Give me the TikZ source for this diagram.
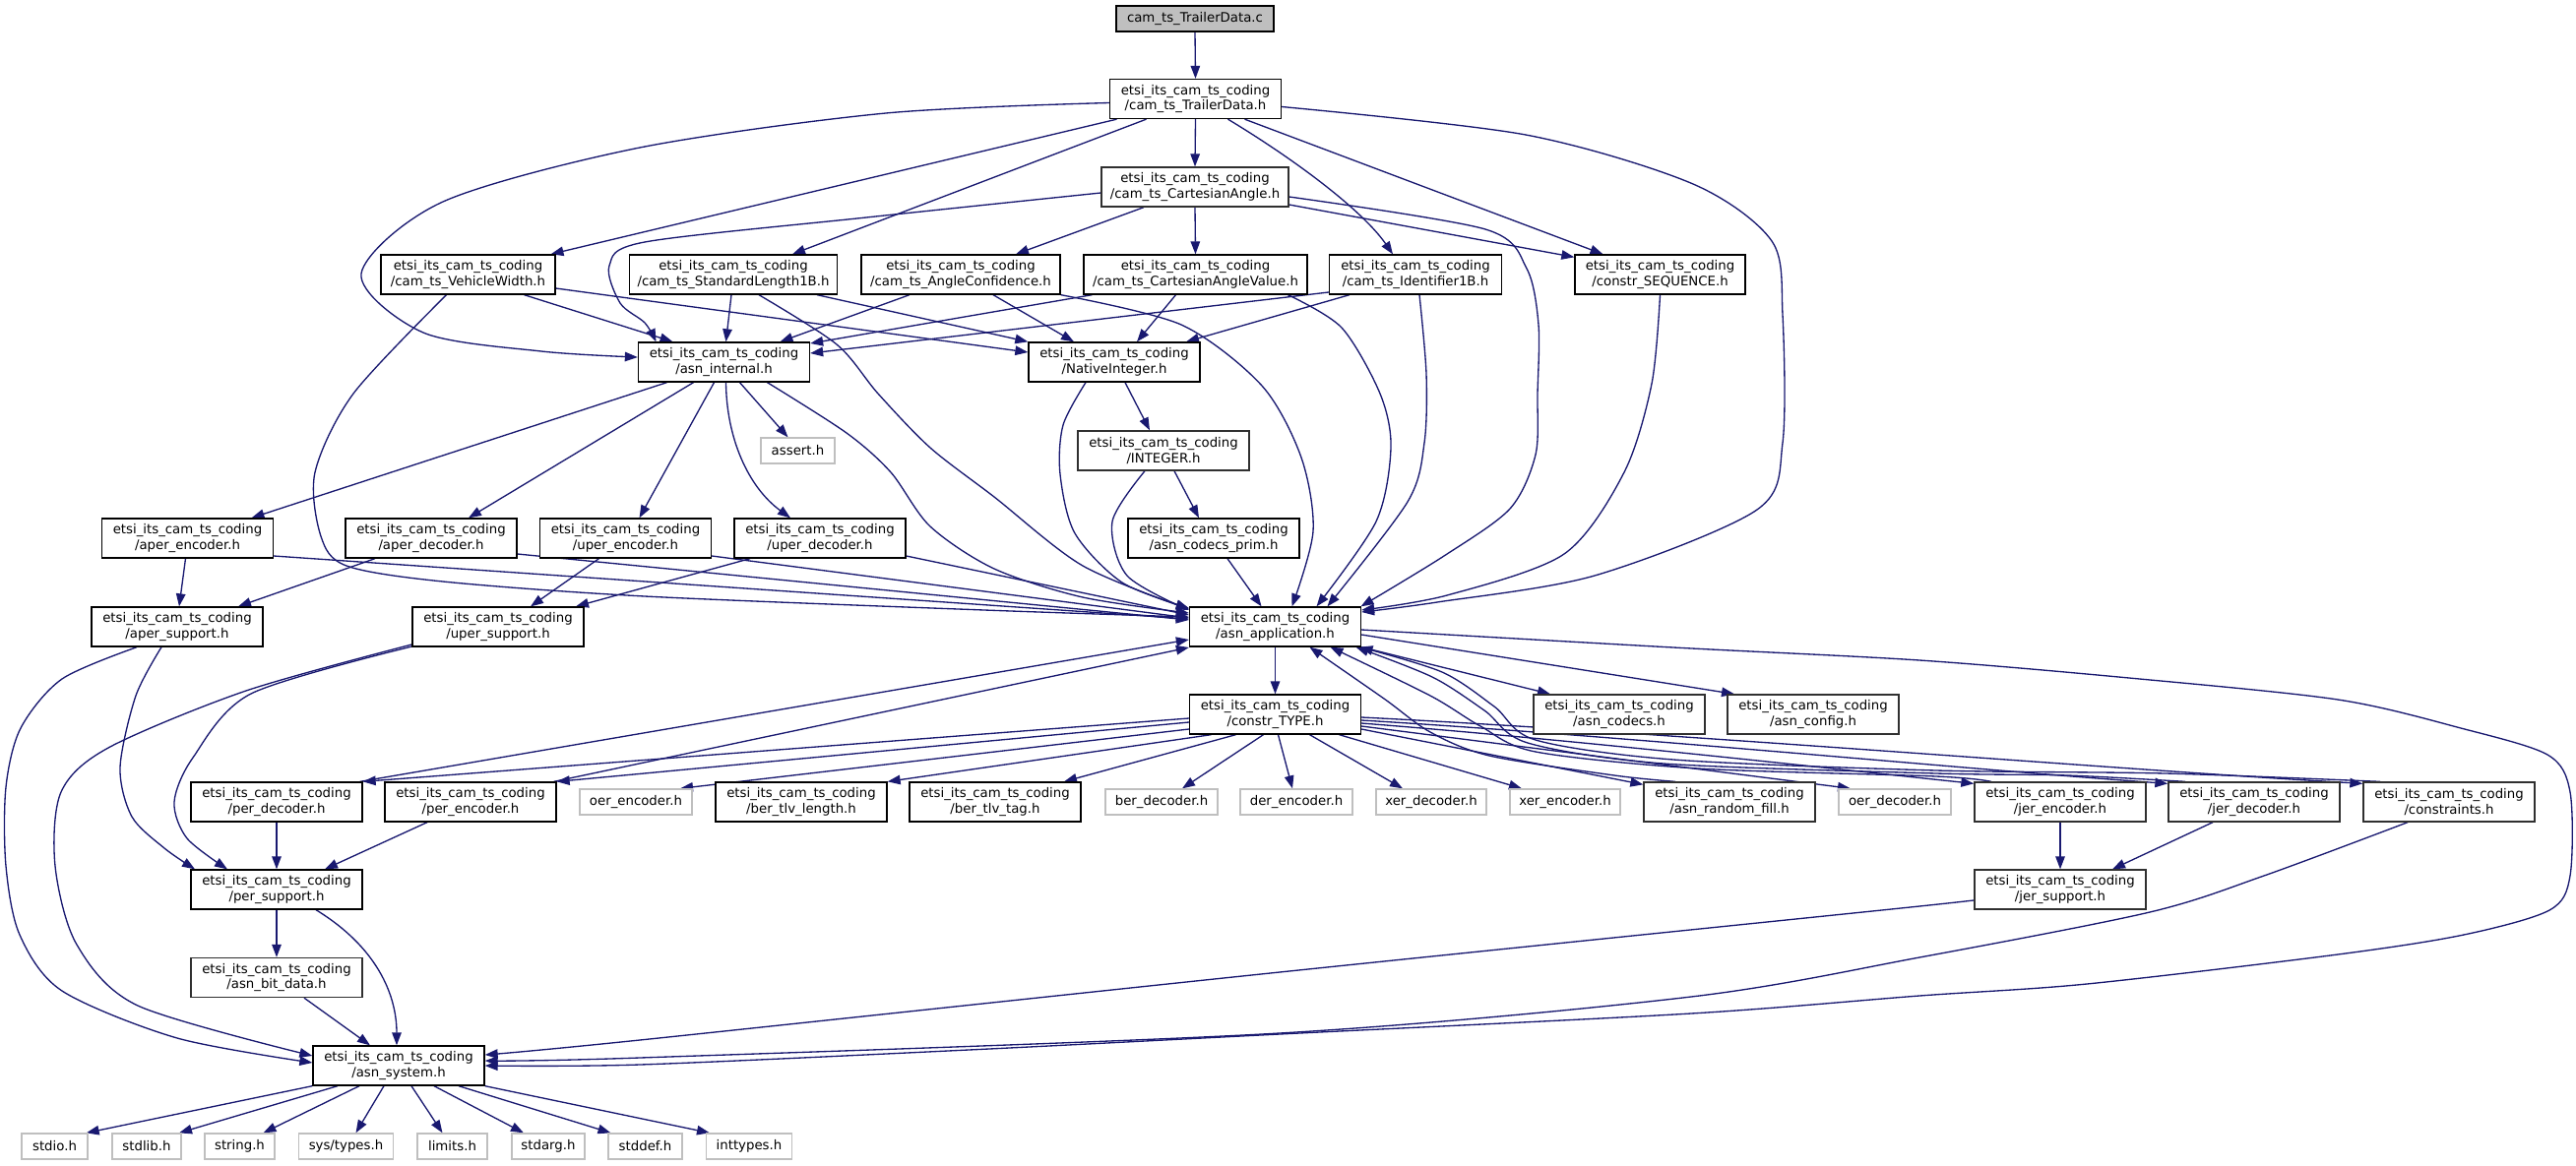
\documentclass[tikz,border=0pt]{standalone}
\usepackage{fontspec}
\setmainfont{DejaVu Sans}
\usetikzlibrary{arrows.meta}
\pgfdeclarelayer{bg}
\pgfsetlayers{bg,main}
\definecolor{edgecol}{HTML}{191970}
\definecolor{greyb}{HTML}{BFBFBF}
\definecolor{greyd}{HTML}{303030}
\newcommand\lblfont{\fontsize{13.3pt}{15.5pt}\selectfont}
\tikzset{
  box/.style={draw=black, line width=1.33pt, fill=white, minimum width=174pt, minimum height=40pt, inner sep=0pt, align=center, font=\lblfont},
  gbox/.style={box, draw=greyd},
  ext/.style={draw=greyb, line width=1.33pt, fill=white, minimum height=26pt, inner sep=0pt, align=center, font=\lblfont},
  dep/.style={draw=edgecol, line width=1.33pt, -{Triangle[length=13pt,width=9.5pt]}},
}
\begin{document}
\begin{tikzpicture}[x=1pt,y=-1pt]
\useasboundingbox (0,0) rectangle (2617,1184);
% ---------- nodes ----------
\node[box,minimum width=160pt,minimum height=26pt,fill=greyb] (c) at (1214,19) {cam\_ts\_TrailerData.c};
\node[box] (th) at (1214.5,100.5) {etsi\_its\_cam\_ts\_coding\\/cam\_ts\_TrailerData.h};
\node[gbox,minimum width=190pt] (ca) at (1214,190) {etsi\_its\_cam\_ts\_coding\\/cam\_ts\_CartesianAngle.h};
\node[box,minimum width=177pt] (vw) at (475.5,279) {etsi\_its\_cam\_ts\_coding\\/cam\_ts\_VehicleWidth.h};
\node[box,minimum width=211pt] (sl) at (745,279) {etsi\_its\_cam\_ts\_coding\\/cam\_ts\_StandardLength1B.h};
\node[box,minimum width=202pt] (ac) at (976,279) {etsi\_its\_cam\_ts\_coding\\/cam\_ts\_AngleConfidence.h};
\node[box,minimum width=227pt] (cav) at (1214.5,279) {etsi\_its\_cam\_ts\_coding\\/cam\_ts\_CartesianAngleValue.h};
\node[box,minimum width=175pt] (id) at (1438,279) {etsi\_its\_cam\_ts\_coding\\/cam\_ts\_Identifier1B.h};
\node[box,minimum width=173pt] (seq) at (1686.5,279) {etsi\_its\_cam\_ts\_coding\\/constr\_SEQUENCE.h};
\node[box] (ai) at (735.5,368) {etsi\_its\_cam\_ts\_coding\\/asn\_internal.h};
\node[box] (ni) at (1132,368) {etsi\_its\_cam\_ts\_coding\\/NativeInteger.h};
\node[ext,minimum width=75pt] (assert) at (810.5,458) {assert.h};
\node[gbox] (int) at (1182,458) {etsi\_its\_cam\_ts\_coding\\/INTEGER.h};
\node[box] (aenc) at (190.5,547) {etsi\_its\_cam\_ts\_coding\\/aper\_encoder.h};
\node[box] (adec) at (438,547) {etsi\_its\_cam\_ts\_coding\\/aper\_decoder.h};
\node[box] (uenc) at (635.5,547) {etsi\_its\_cam\_ts\_coding\\/uper\_encoder.h};
\node[box] (udec) at (833,547) {etsi\_its\_cam\_ts\_coding\\/uper\_decoder.h};
\node[box] (prim) at (1233,547) {etsi\_its\_cam\_ts\_coding\\/asn\_codecs\_prim.h};
\node[box] (asup) at (180,637) {etsi\_its\_cam\_ts\_coding\\/aper\_support.h};
\node[box] (usup) at (506,637) {etsi\_its\_cam\_ts\_coding\\/uper\_support.h};
\node[box] (aa) at (1295.5,637) {etsi\_its\_cam\_ts\_coding\\/asn\_application.h};
\node[box] (ctype) at (1295.5,726) {etsi\_its\_cam\_ts\_coding\\/constr\_TYPE.h};
\node[gbox] (codecs) at (1645,726) {etsi\_its\_cam\_ts\_coding\\/asn\_codecs.h};
\node[gbox] (config) at (1842,726) {etsi\_its\_cam\_ts\_coding\\/asn\_config.h};
\node[box] (pdec) at (281,815) {etsi\_its\_cam\_ts\_coding\\/per\_decoder.h};
\node[box] (penc) at (478,815) {etsi\_its\_cam\_ts\_coding\\/per\_encoder.h};
\node[ext,minimum width=114pt] (oerenc) at (646,815) {oer\_encoder.h};
\node[box] (btl) at (814,815) {etsi\_its\_cam\_ts\_coding\\/ber\_tlv\_length.h};
\node[box] (btt) at (1011,815) {etsi\_its\_cam\_ts\_coding\\/ber\_tlv\_tag.h};
\node[ext,minimum width=114pt] (berdec) at (1180,815) {ber\_decoder.h};
\node[ext,minimum width=114pt] (derenc) at (1317,815) {der\_encoder.h};
\node[ext,minimum width=112pt] (xerdec) at (1454,815) {xer\_decoder.h};
\node[ext,minimum width=112pt] (xerenc) at (1590,815) {xer\_encoder.h};
\node[gbox] (rnd) at (1757,815) {etsi\_its\_cam\_ts\_coding\\/asn\_random\_fill.h};
\node[ext,minimum width=114pt] (oerdec) at (1925,815) {oer\_decoder.h};
\node[gbox] (jenc) at (2093,815) {etsi\_its\_cam\_ts\_coding\\/jer\_encoder.h};
\node[gbox] (jdec) at (2290,815) {etsi\_its\_cam\_ts\_coding\\/jer\_decoder.h};
\node[gbox] (cons) at (2488,815) {etsi\_its\_cam\_ts\_coding\\/constraints.h};
\node[box] (psup) at (281,904) {etsi\_its\_cam\_ts\_coding\\/per\_support.h};
\node[gbox] (jsup) at (2093,904) {etsi\_its\_cam\_ts\_coding\\/jer\_support.h};
\node[gbox] (bit) at (281,993.5) {etsi\_its\_cam\_ts\_coding\\/asn\_bit\_data.h};
\node[box] (sys) at (405,1083) {etsi\_its\_cam\_ts\_coding\\/asn\_system.h};
\node[ext,minimum width=67pt] (stdio) at (55.5,1165) {stdio.h};
\node[ext,minimum width=70pt] (stdlib) at (149,1165) {stdlib.h};
\node[ext,minimum width=71pt] (string) at (243.5,1165) {string.h};
\node[ext,minimum width=96pt] (systypes) at (351.5,1165) {sys/types.h};
\node[ext,minimum width=71pt] (limits) at (459.5,1165) {limits.h};
\node[ext,minimum width=74pt] (stdarg) at (557,1165) {stdarg.h};
\node[ext,minimum width=75pt] (stddef) at (655.5,1165) {stddef.h};
\node[ext,minimum width=87pt] (inttypes) at (761,1165) {inttypes.h};
% ---------- edges ----------
\begin{pgfonlayer}{bg}
\draw[dep] (c.south) -- (th.north);
% TrailerData.h
\draw[dep] plot[smooth] coordinates {([yshift=-4pt]th.west) (900,115) (650,150) (450,205) (367,278) (430,338) (550,357) ([yshift=5pt]ai.west)};
\draw[dep] ([xshift=-80pt]th.south) -- ([xshift=84pt]vw.north);
\draw[dep] ([xshift=-50pt]th.south) -- ([xshift=60pt]sl.north);
\draw[dep] (th.south) -- (ca.north);
\draw[dep] ([xshift=33pt]th.south) .. controls (1320,165) and (1385,215) .. ([xshift=-23pt]id.north);
\draw[dep] ([xshift=50pt]th.south) -- ([xshift=-58pt]seq.north);
\draw[dep] plot[smooth] coordinates {([yshift=-8pt]th.east) (1550,137) (1720,187) (1800,245) (1811,320) (1811,450) (1785,518) (1620,585) (1460,612) ([yshift=15pt]aa.east)};
% CartesianAngle.h
\draw[dep] plot[smooth] coordinates {([yshift=-6pt]ca.west) (880,221) (655,246) (619,270) (630,308) (655,328) ([xshift=-69pt]ai.north)};
\draw[dep] ([xshift=-52pt]ca.south) -- ([xshift=56pt]ac.north);
\draw[dep] (ca.south) -- (cav.north);
\draw[dep] ([yshift=-18pt]ca.east) -- ([yshift=-3pt]seq.north west);
\draw[dep] plot[smooth] coordinates {([yshift=-10pt]ca.east) (1509,233) (1551,273) (1563,330) (1562,400) (1560,462) (1534,517) (1467,565) ([xshift=87pt]aa.north)};
% StandardLength1B.h
\draw[dep] ([xshift=-2pt]sl.south) -- ([xshift=2pt]ai.north);
\draw[dep] ([xshift=85pt]sl.south) -- (ni.north west);
\draw[dep] plot[smooth] coordinates {([xshift=26pt]sl.south) (850,350) (892,400) (945,455) (1010,505) (1100,575) ([yshift=18pt]aa.west)};
% AngleConfidence.h
\draw[dep] ([xshift=-52pt]ac.south) -- ([xshift=57pt]ai.north);
\draw[dep] ([xshift=33pt]ac.south) -- ([xshift=-41pt]ni.north);
\draw[dep] plot[smooth] coordinates {(ac.south east) (1200,330) (1282,392) (1322,465) (1334,540) ([xshift=17pt]aa.north)};
% CartesianAngleValue.h
\draw[dep] ([xshift=-105pt]cav.south) -- ([yshift=19pt]ai.east);
\draw[dep] ([xshift=-20pt]cav.south) -- ([xshift=23pt]ni.north);
\draw[dep] plot[smooth] coordinates {([xshift=94pt]cav.south) (1363,333) (1402,400) (1413,455) (1398,530) ([xshift=42pt]aa.north)};
% Identifier1B.h
\draw[dep] ([yshift=-18pt]id.west) -- ([yshift=9pt]ai.east);
\draw[dep] ([xshift=-67pt]id.south) -- ([xshift=73pt]ni.north);
\draw[dep] plot[smooth] coordinates {([xshift=4pt]id.south) (1449,380) (1447,450) (1430,510) ([xshift=53pt]aa.north)};
% constr_SEQUENCE.h
\draw[dep] plot[smooth] coordinates {(seq.south) (1678,390) (1650,480) (1589,563) (1470,605) ([yshift=17pt]aa.east)};
% VehicleWidth.h
\draw[dep] ([xshift=57pt]vw.south) -- ([xshift=-52pt]ai.north);
\draw[dep] ([yshift=-14pt]vw.east) -- ([yshift=10pt]ni.west);
\draw[dep] plot[smooth] coordinates {([xshift=-22pt]vw.south) (359,400) (320,480) (326,545) (352,575) (450,591) (655,606) (1000,620) ([yshift=10pt]aa.west)};
% asn_internal.h
\draw[dep] ([xshift=-58pt]ai.south) -- ([xshift=65pt]aenc.north);
\draw[dep] ([xshift=-31pt]ai.south) -- ([xshift=38pt]adec.north);
\draw[dep] ([xshift=-10pt]ai.south) -- ([xshift=14pt]uenc.north);
\draw[dep] ([xshift=16pt]ai.south) -- ([xshift=-10pt]assert.north);
\draw[dep] ([xshift=2pt]ai.south) .. controls (738,445) and (760,495) .. ([xshift=-30pt]udec.north);
\draw[dep] plot[smooth] coordinates {([xshift=44pt]ai.south) (860,440) (905,480) (945,535) (1010,578) (1100,607) ([yshift=14pt]aa.west)};
% NativeInteger.h
\draw[dep] ([xshift=11pt]ni.south) -- ([xshift=-14pt]int.north);
\draw[dep] plot[smooth] coordinates {([xshift=-29pt]ni.south) (1080,432) (1077,482) (1092,542) (1140,592) ([yshift=19pt]aa.west)};
% INTEGER.h
\draw[dep] ([xshift=11pt]int.south) -- ([xshift=-15pt]prim.north);
\draw[dep] plot[smooth] coordinates {([xshift=-19pt]int.south) (1130,530) (1145,585) ([yshift=17pt]aa.west)};
\draw[dep] ([xshift=14pt]prim.south) -- ([xshift=-14pt]aa.north);
% aper/uper encoders/decoders
\draw[dep] ([xshift=-2pt]aenc.south) -- ([xshift=2pt]asup.north);
\draw[dep] ([yshift=-18pt]aenc.east) -- ([yshift=8pt]aa.west);
\draw[dep] ([xshift=-57pt]adec.south) -- ([xshift=62pt]asup.north);
\draw[dep] ([yshift=-16pt]adec.east) -- ([yshift=7pt]aa.west);
\draw[dep] ([xshift=-27pt]uenc.south) -- ([xshift=33pt]usup.north);
\draw[dep] ([yshift=-18pt]uenc.east) -- ([yshift=9pt]aa.west);
\draw[dep] ([xshift=-71pt]udec.south) -- ([xshift=79pt]usup.north);
\draw[dep] ([yshift=-18pt]udec.east) -- ([yshift=12pt]aa.west);
% supports
\draw[dep] plot[smooth] coordinates {([xshift=-41pt]asup.south) (63,690) (21,740) (6,800) (6,880) (20,950) (63,1007) (180,1055) ([yshift=3pt]sys.west)};
\draw[dep] plot[smooth] coordinates {([xshift=-16pt]asup.south) (138,707) (122,780) (134,830) (167,862) ([xshift=-83pt]psup.north)};
\draw[dep] plot[smooth] coordinates {([yshift=-18pt]usup.west) (250,702) (110,760) (62,805) (56,880) (78,960) (140,1022) ([yshift=10pt]sys.west)};
\draw[dep] plot[smooth] coordinates {([yshift=-20pt]usup.west) (255,705) (196,770) (177,815) (190,852) ([xshift=-50pt]psup.north)};
% per
\draw[dep] (pdec.south) -- (psup.north);
\draw[dep] ([xshift=-3pt]pdec.north east) -- ([yshift=-13pt]aa.west);
\draw[dep] ([xshift=-44pt]penc.south) -- ([xshift=49pt]psup.north);
\draw[dep] ([xshift=-3pt]penc.north east) -- ([yshift=-21pt]aa.west);
\draw[dep] (psup.south) -- (bit.north);
\draw[dep] ([xshift=40pt]psup.south) .. controls (382,962) and (403,1010) .. ([xshift=-2pt]sys.north);
\draw[dep] ([xshift=28pt]bit.south) -- ([xshift=-29pt]sys.north);
% asn_system.h
\draw[dep] (sys.south west) -- ([xshift=-2pt]stdio.north east);
\draw[dep] ([xshift=-62pt]sys.south) -- ([xshift=33pt]stdlib.north);
\draw[dep] ([xshift=-40pt]sys.south) -- ([xshift=24pt]string.north);
\draw[dep] ([xshift=-15pt]sys.south) -- ([xshift=10pt]systypes.north);
\draw[dep] ([xshift=13pt]sys.south) -- ([xshift=-10pt]limits.north);
\draw[dep] ([xshift=36pt]sys.south) -- ([xshift=-25pt]stdarg.north);
\draw[dep] ([xshift=61pt]sys.south) -- ([xshift=-35pt]stddef.north);
\draw[dep] (sys.south east) -- ([xshift=-40pt]inttypes.north);
% asn_application.h
\draw[dep] (aa.south) -- (ctype.north);
\draw[dep] (aa.south east) -- ([xshift=-70pt]codecs.north);
\draw[dep] ([yshift=-8pt]aa.east) -- ([xshift=-80pt]config.north);
\draw[dep] plot[smooth] coordinates {([yshift=-3pt]aa.east) (1700,658) (1950,671) (2163,689) (2375,711) (2500,740) (2588,767) (2611,805) (2611,890) (2590,925) (2503,950) (2375,970) (2120,1000) (1950,1012) (1718,1030) (1300,1051) (984,1067) (650,1082) (sys.east)};
% constr_TYPE.h
\draw[dep] ([yshift=-4pt]ctype.west) -- (pdec.north east);
\draw[dep] ([yshift=-8pt]ctype.west) -- (penc.north east);
\draw[dep] ([yshift=-15pt]ctype.west) -- ([xshift=45pt]oerenc.north);
\draw[dep] ([xshift=-65pt]ctype.south) -- (btl.north east);
\draw[dep] ([xshift=-40pt]ctype.south) -- ([xshift=70pt]btt.north);
\draw[dep] ([xshift=-12pt]ctype.south) -- ([xshift=21pt]berdec.north);
\draw[dep] ([xshift=3pt]ctype.south) -- ([xshift=-4pt]derenc.north);
\draw[dep] ([xshift=35pt]ctype.south) -- ([xshift=-29pt]xerdec.north);
\draw[dep] ([xshift=65pt]ctype.south) -- ([xshift=-44pt]xerenc.north);
\draw[dep] ([yshift=-15pt]ctype.east) -- ([yshift=-3pt]rnd.north west);
\draw[dep] ([yshift=-12pt]ctype.east) -- ([xshift=-45pt]oerdec.north);
\draw[dep] ([yshift=-9pt]ctype.east) .. controls (1600,752) and (1850,780) .. ([yshift=-2pt]jenc.north west);
\draw[dep] ([yshift=-6pt]ctype.east) .. controls (1650,748) and (2000,782) .. ([yshift=-2pt]jdec.north west);
\draw[dep] ([yshift=-3pt]ctype.east) .. controls (1700,745) and (2150,782) .. ([yshift=-2pt]cons.north west);
% back to asn_application.h
\draw[dep] plot[smooth] coordinates {([xshift=-55pt]rnd.north) (1640,788) (1513,768) (1453,744) (1406,710) ([xshift=35pt]aa.south)};
\draw[dep] plot[smooth] coordinates {([xshift=-70pt]jenc.north) (1967,789) (1725,781) (1560,764) (1504,738) (1453,707) ([xshift=56pt]aa.south)};
\draw[dep] plot[smooth] coordinates {([xshift=-70pt]jdec.north) (2100,788) (1967,786) (1690,776) (1552,755) (1508,722) (1455,688) ([xshift=82pt]aa.south)};
\draw[dep] plot[smooth] coordinates {([xshift=-70pt]cons.north) (2200,786) (1967,783) (1700,772) (1560,752) (1518,718) (1465,683) ([xshift=86pt]aa.south)};
% jer
\draw[dep] (jenc.south) -- (jsup.north);
\draw[dep] ([xshift=-42pt]jdec.south) -- ([xshift=53pt]jsup.north);
\draw[dep] plot[smooth] coordinates {([xshift=-42pt]cons.south) (2300,890) (2184,927) (1950,973) (1718,1013) (1300,1050) (650,1075) ([yshift=5pt]sys.east)};
\draw[dep] plot[smooth] coordinates {([yshift=-10pt]jsup.west) (1950,921) (1300,988) (650,1057) ([yshift=11pt]sys.east)};
\end{pgfonlayer}
\end{tikzpicture}
\end{document}
